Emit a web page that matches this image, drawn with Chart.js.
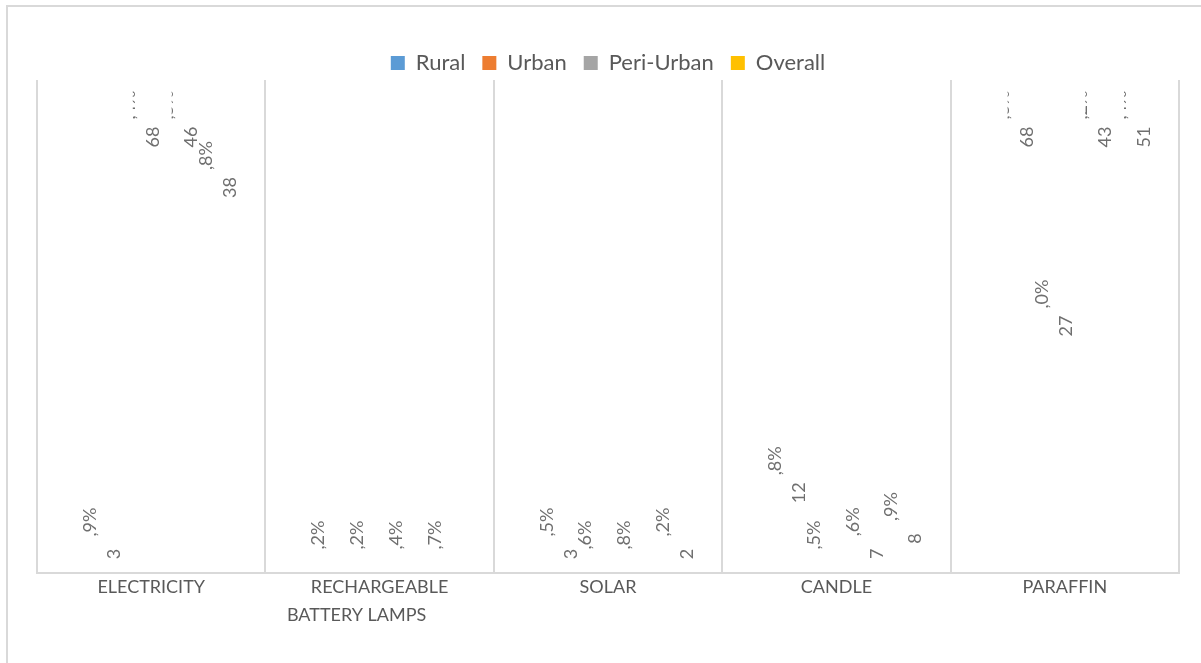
<!DOCTYPE html>
<html>
<head>
<meta charset="utf-8">
<title>Lighting sources</title>
<script src="https://cdn.jsdelivr.net/npm/chart.js@4/dist/chart.umd.min.js"></script>
<style>
  html, body { margin: 0; padding: 0; background: #fff; }
  #wrap { width: 1201px; height: 663px; }
</style>
</head>
<body>
<div id="wrap"><canvas id="lighting-chart" width="1201" height="663"></canvas></div>
<script>
// main source of lighting, % of households
const categories = ["ELECTRICITY", "RECHARGEABLE BATTERY LAMPS", "SOLAR", "CANDLE", "PARAFFIN"];
const seriesNames = ["Rural", "Urban", "Peri-Urban", "Overall"];
const seriesColors = ["#5b9bd5", "#ed7d31", "#a5a5a5", "#ffc000"];

const rural = [3.9, 1.2, 3.5, 12.8, 68.3];
const urban = [68.4, 0.2, 0.6, 0.5, 27.0];
const periUrban = [46.5, 0.4, 0.8, 7.6, 43.2];
const overall = [38.8, 0.7, 2.2, 8.9, 51.4];

const FONT = "Lato";
const gridGrey = "#d9d9d9";

// thin frame round the whole chart (top and left edges)
const frame = {
  id: "frame",
  beforeDraw(chart) {
    const { ctx, width, height } = chart;
    ctx.save();
    ctx.strokeStyle = gridGrey;
    ctx.lineWidth = 2;
    ctx.beginPath();
    ctx.moveTo(7, height);
    ctx.lineTo(7, 6);
    ctx.lineTo(width, 6);
    ctx.stroke();
    ctx.restore();
  },
};

// legend sits a little closer to the plot
const tightLegend = {
  id: "tightLegend",
  afterInit(chart) {
    const legend = chart.legend;
    if (!legend) return;
    const fit = legend.fit.bind(legend);
    legend.fit = () => {
      fit();
      legend.height -= 4;
    };
  },
};

// rotated "12,8%" style labels, split into the whole part and the ",8%" part
const valueLabels = {
  id: "valueLabels",
  afterDatasetsDraw(chart) {
    const { ctx, chartArea: area, scales } = chart;
    const y = scales.y;
    const topPin = area.top + 57;
    const bottomPin = area.bottom - 19;

    ctx.save();
    ctx.beginPath();
    ctx.rect(area.left, area.top + 10, area.right - area.left, area.bottom - area.top - 24);
    ctx.clip();
    ctx.font = "18px " + FONT;
    ctx.fillStyle = "#6f6f6f";
    ctx.textAlign = "center";
    ctx.textBaseline = "middle";

    const put = (text, x, yy) => {
      ctx.save();
      ctx.translate(x, yy);
      ctx.rotate(-Math.PI / 2);
      ctx.fillText(text, 0, 0);
      ctx.restore();
    };

    chart.data.datasets.forEach((ds, i) => {
      chart.getDatasetMeta(i).data.forEach((bar, j) => {
        const v = ds.data[j];
        const [whole, dec] = v.toFixed(1).split(".");
        let yNum = y.getPixelForValue(v) + 70;
        const pinned = yNum < topPin;
        if (pinned) yNum = topPin;
        if (yNum > bottomPin) yNum = v >= 2 ? bottomPin : area.bottom - 6; // tiny bars sink under the edge

        put(whole, bar.x + 21, yNum);

        ctx.save();
        if (pinned) {
          // only a sliver of the decimals survives at the top
          ctx.beginPath();
          ctx.rect(bar.x + 1, area.top, 10, 60);
          ctx.clip();
        }
        put("," + dec + "%", bar.x - 3, yNum - 32);
        ctx.restore();
      });
    });
    ctx.restore();
  },
};

const datasets = [rural, urban, periUrban, overall].map((values, i) => ({
  label: seriesNames[i],
  data: values,
  backgroundColor: "rgba(0,0,0,0)",
  borderWidth: 0,
  categoryPercentage: 0.68,
  barPercentage: 1,
}));

new Chart(document.getElementById("lighting-chart"), {
  type: "bar",
  data: { labels: categories, datasets },
  options: {
    responsive: false,
    animation: false,
    layout: { padding: { top: 35, left: 37, right: 22, bottom: 34 } },
    plugins: {
      legend: {
        position: "top",
        labels: {
          color: "#595959",
          font: { family: FONT, size: 22, lineHeight: 1 },
          boxWidth: 14,
          boxHeight: 14,
          padding: 17,
          generateLabels: () =>
            seriesNames.map((name, i) => ({
              text: name,
              fillStyle: seriesColors[i],
              strokeStyle: seriesColors[i],
              lineWidth: 0,
              datasetIndex: i,
              fontColor: "#595959",
            })),
        },
      },
      tooltip: { enabled: false },
    },
    scales: {
      x: {
        grid: { color: gridGrey, lineWidth: 2, drawTicks: false, offset: true },
        border: { color: gridGrey, width: 2 },
        ticks: {
          color: "#595959",
          padding: 0,
          maxRotation: 0,
          autoSkip: false,
          font: { family: FONT, size: 18, lineHeight: 28 / 18 },
          callback(value) {
            const name = categories[value];
            if (name.length < 16) return name;
            const cut = name.indexOf(" ");
            return [name.slice(0, cut), name.slice(cut + 1).padEnd(23, " ")];
          },
        },
      },
      y: { display: false, min: 0, max: 42 },
    },
  },
  plugins: [frame, tightLegend, valueLabels],
});
</script>
</body>
</html>
